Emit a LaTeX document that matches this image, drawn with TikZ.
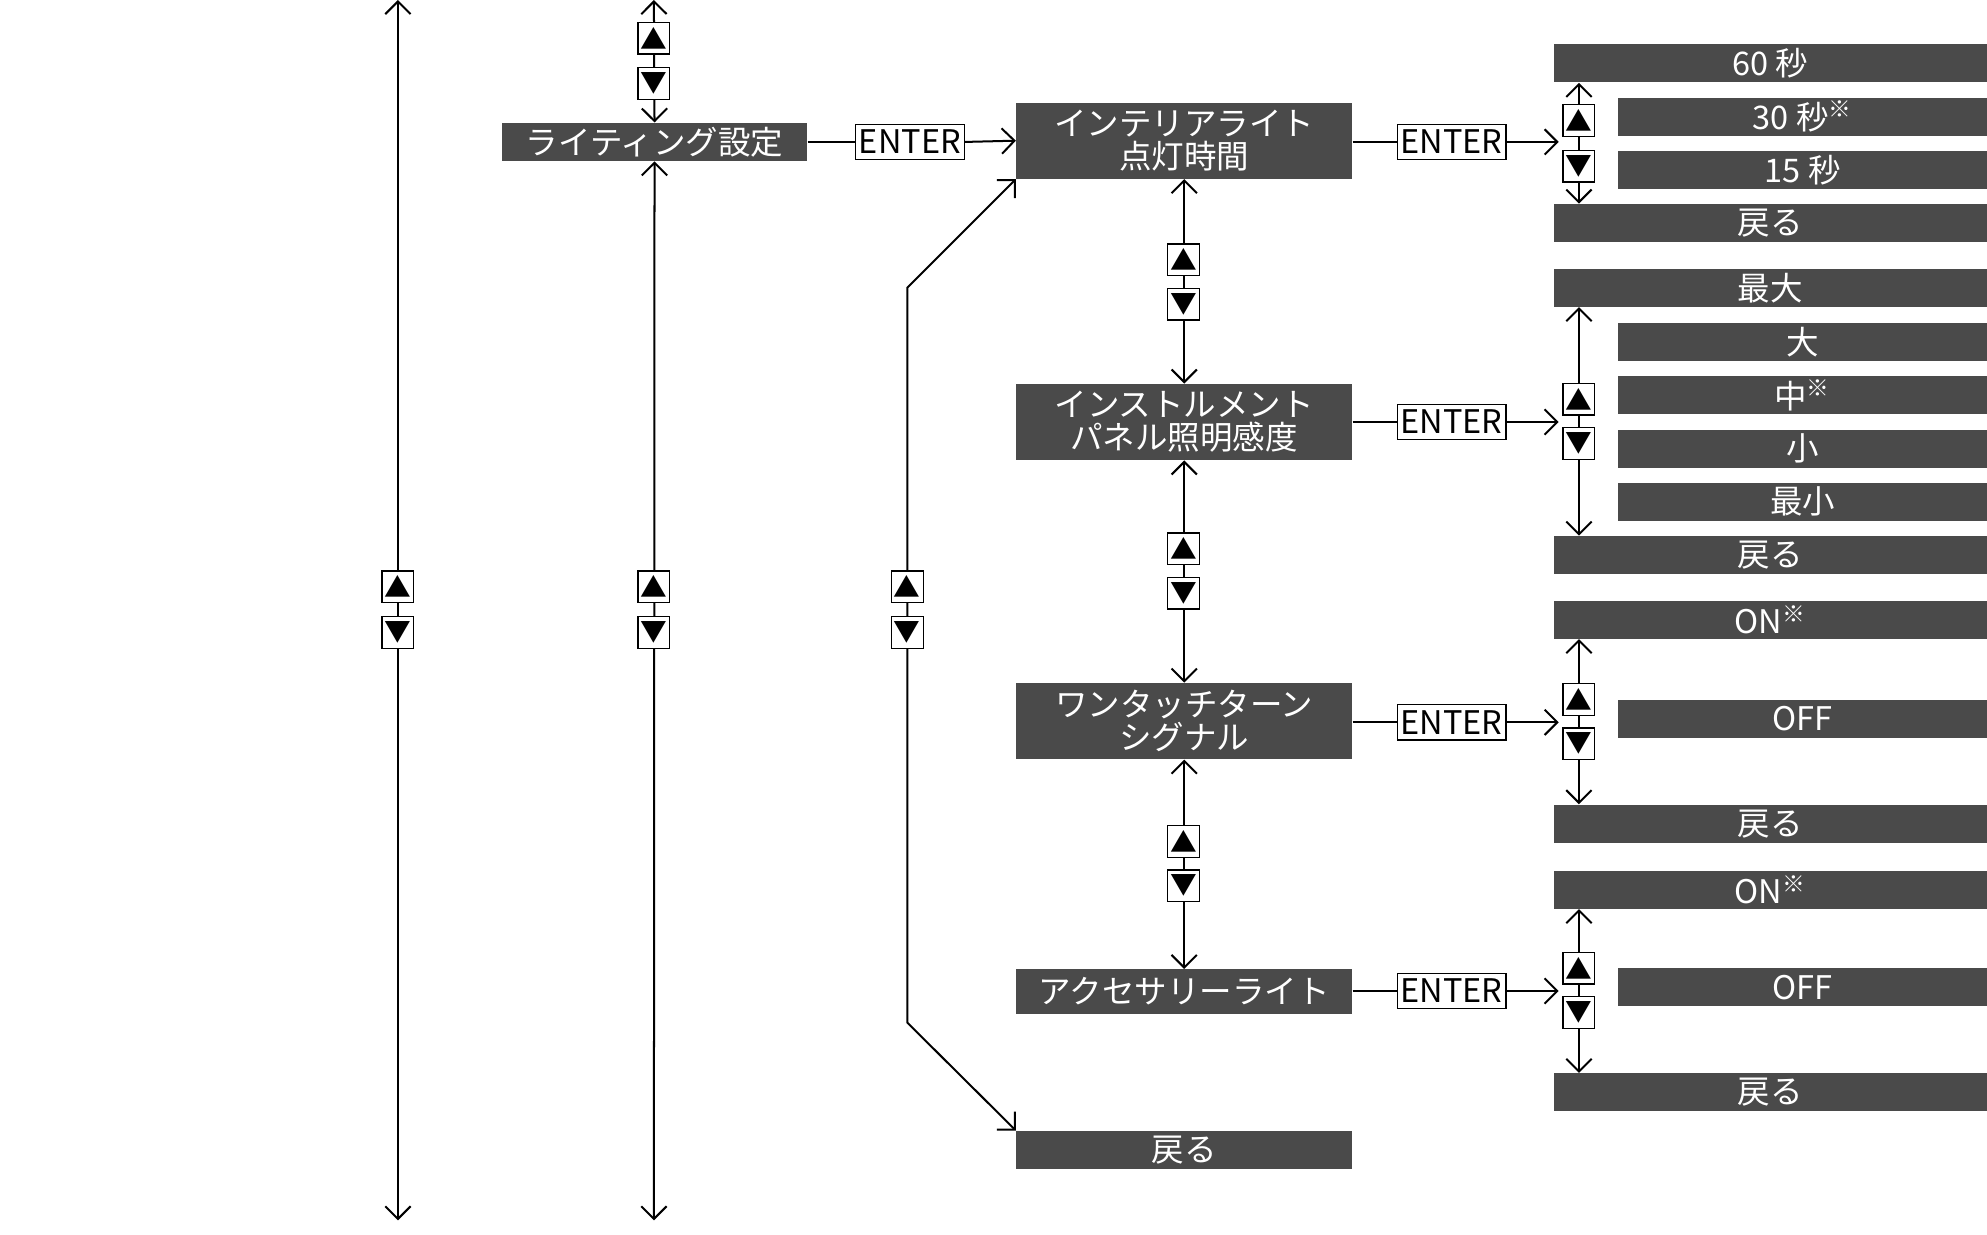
\documentclass[tikz,border=0pt]{standalone}
\usepackage{fontspec}
\setmainfont{Noto Sans CJK JP}
\usetikzlibrary{arrows.meta, positioning}

\begin{document}
\begin{tikzpicture}[
	x=0.02cm, y=-0.02cm,
	every node/.style={font=\fontsize{14.6}{16}\selectfont},
	menu/.style={fill=black!71, text=white, minimum width=5.3cm, minimum height=0.6cm, inner sep=0pt, align=center},
	menutall/.style={menu, minimum height=1.2cm, font=\fontsize{14.6}{14.8}\selectfont},
	opt/.style={fill=black!71, text=white, minimum width=6.84cm, minimum height=0.6cm, inner sep=0pt},
	subopt/.style={fill=black!71, text=white, minimum width=5.82cm, minimum height=0.6cm, inner sep=0pt},
	enter/.style={draw, fill=white, line width=0.6pt, inner sep=1.5pt, minimum height=0.56cm},
	btn/.style={draw, fill=white, line width=0.6pt, minimum size=0.5cm, inner sep=0pt, font=\fontsize{12}{12}\selectfont},
	arrow/.style={-{Straight Barb[length=2mm,width=4mm]}, line width=0.9pt},
	both/.style={{Straight Barb[length=2mm,width=4mm]}-{Straight Barb[length=2mm,width=4mm]}, line width=0.9pt}
	]
	\useasboundingbox (0,0) rectangle (1568,973.8);
	
	% Outer lines
	\coordinate (o1t) at (314,0);
	\coordinate (o1b) at (314,963);
	\draw[both] (o1t) -- (o1b);
	\node[btn] (o1u) at (314,463) {▲};
	\node[btn] (o1d) at (314,499) {▼};
	
	% Lighting menu
	\node[menu, minimum width=4.82cm] (light) at (516.5,112) {ライティング設定};
	\coordinate (o2t) at (516,0);
	\coordinate (o2b) at (516,963);
	\draw[both] (o2t) -- (light.north);
	\draw[both] (light.south) -- (o2b);
	\node[btn] (o2u0) at (516,30) {▲};
	\node[btn] (o2d0) at (516,66) {▼};
	\node[btn] (o2u) at (516,463) {▲};
	\node[btn] (o2d) at (516,499) {▼};
	
	% Middle column
	\node[menutall] (inter) at (934.5,111) {インテリアライト\\点灯時間};
	\node[menutall] (inst) at (934.5,333) {インストルメント\\パネル照明感度};
	\node[menutall] (turn) at (934.5,569) {ワンタッチターン\\シグナル};
	\node[menu, minimum height=0.7cm] (acc) at (934.5,782.5) {アクセサリーライト};
	\node[menu] (back) at (934.5,907.5) {戻る};
	
	\node[enter] (e0) at (718,112) {ENTER};
	\draw[line width=0.9pt] (light.east) -- (e0.west);
	\draw[arrow] (e0.east) -- (inter.west);
	
	\draw[both] (inter.south) -- (inst.north);
	\draw[both] (inst.south) -- (turn.north);
	\draw[both] (turn.south) -- (acc.north);
	\node[btn] (m1u) at (934,205) {▲};
	\node[btn] (m1d) at (934,240) {▼};
	\node[btn] (m2u) at (934,433) {▲};
	\node[btn] (m2d) at (934,468) {▼};
	\node[btn] (m3u) at (934,664) {▲};
	\node[btn] (m3d) at (934,699) {▼};
	
	% Loop back
	\coordinate (lt) at (716,227);
	\coordinate (lb) at (716,807);
	\draw[both] (inter.south west) -- (lt) -- (lb) -- (back.north west);
	\node[btn] (lu) at (716,463) {▲};
	\node[btn] (ld) at (716,499) {▼};
	
	% ENTER to options
	\foreach \n/\y in {inter/112, inst/333, turn/570, acc/782} {
		\node[enter] (e\n) at (1145.5,\y) {ENTER};
		\coordinate (c\n) at (1230,\y);
		\draw[line width=0.9pt] (\n.east |- e\n) -- (e\n.west);
		\draw[arrow] (e\n.east) -- (c\n);
	}
	
	% Options: interior light time
	\node[opt] (a1) at (1397,50) {60 秒};
	\node[subopt] (a2) at (1422.5,92) {30 秒\textsuperscript{※}};
	\node[subopt] (a3) at (1422.5,134) {15 秒};
	\node[opt] (a4) at (1397,176) {戻る};
	\draw[both] (a1.south -| 1246,0) -- (a4.north -| 1246,0);
	\node[btn] (au) at (1246,95) {▲};
	\node[btn] (ad) at (1246,131) {▼};
	
	% Options: panel brightness
	\node[opt] (b1) at (1397,227) {最大};
	\node[subopt] (b2) at (1422.5,270) {大};
	\node[subopt] (b3) at (1422.5,312) {中\textsuperscript{※}};
	\node[subopt] (b4) at (1422.5,354) {小};
	\node[subopt] (b5) at (1422.5,396) {最小};
	\node[opt] (b6) at (1397,438) {戻る};
	\draw[both] (b1.south -| 1246,0) -- (b6.north -| 1246,0);
	\node[btn] (bu) at (1246,315) {▲};
	\node[btn] (bd) at (1246,350) {▼};
	
	% Options: one-touch turn signal
	\node[opt] (c1) at (1397,489) {ON\textsuperscript{※}};
	\node[subopt] (c2) at (1422.5,567) {OFF};
	\node[opt] (c3) at (1397,650) {戻る};
	\draw[both] (c1.south -| 1246,0) -- (c3.north -| 1246,0);
	\node[btn] (cu) at (1246,552) {▲};
	\node[btn] (cd) at (1246,587) {▼};
	
	% Options: accessory light
	\node[opt] (d1) at (1397,702) {ON\textsuperscript{※}};
	\node[subopt] (d2) at (1422.5,779) {OFF};
	\node[opt] (d3) at (1397,862) {戻る};
	\draw[both] (d1.south -| 1246,0) -- (d3.north -| 1246,0);
	\node[btn] (du) at (1246,764) {▲};
	\node[btn] (dd) at (1246,799) {▼};
	
\end{tikzpicture}
\end{document}
